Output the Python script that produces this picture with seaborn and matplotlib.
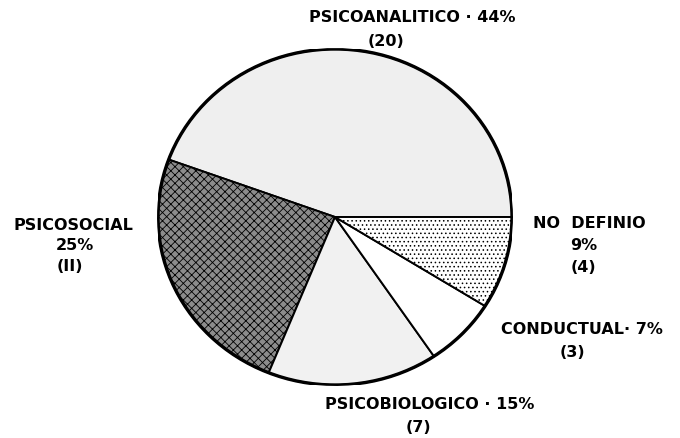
import matplotlib
matplotlib.use("Agg")
import matplotlib.pyplot as plt
import seaborn as sns
from matplotlib.patches import Ellipse

# datos del grafico (orden antihorario desde las 3 en punto)
categorias = ["PSICOANALITICO", "PSICOSOCIAL", "PSICOBIOLOGICO", "CONDUCTUAL", "NO DEFINIO"]
casos = [20, 11, 7, 3, 4]
porcentajes = ["44%", "25%", "15%", "7%", "9%"]
cuentas = ["(20)", "(II)", "(7)", "(3)", "(4)"]

sns.set_style("white")
plt.rcParams["font.family"] = ["DejaVu Sans"]
plt.rcParams["hatch.color"] = "black"
plt.rcParams["hatch.linewidth"] = 0.6

W, H = 680, 439
fig = plt.figure(figsize=(W / 100, H / 100), dpi=100)

# centro y radios del pastel en pixeles
cx, cy, rx, ry = 335, 218, 177, 168
ax = fig.add_axes([(cx - rx) / W, (H - cy - ry) / H, 2 * rx / W, 2 * ry / H])

rellenos = ["#efefef", "#8c8c8c", "#f1f1f1", "white", "white"]
tramas = [None, "xxxx", None, None, "...."]

wedges, _ = ax.pie(casos, startangle=0, counterclock=True,
                   colors=rellenos,
                   wedgeprops=dict(edgecolor="black", linewidth=1.4))
for w, t in zip(wedges, tramas):
    if t:
        w.set_hatch(t)

ax.add_patch(Ellipse((0, 0), 2, 2, fill=False, edgecolor="black", linewidth=2.4))
ax.set_aspect("auto")
ax.set_xlim(-1.0, 1.0)
ax.set_ylim(-1.0, 1.0)
ax.axis("off")


def texto(x, y, s):
    fig.text(x / W, 1 - y / H, s, ha="center", va="center",
             fontsize=11.5, fontweight="bold", color="black")


# etiquetas, posiciones
texto(412, 18, categorias[0] + " · " + porcentajes[0])
texto(386, 42, cuentas[0])
texto(73, 226, categorias[1])
texto(75, 246, porcentajes[1])
texto(70, 267, cuentas[1])
texto(430, 405, categorias[2] + " · " + porcentajes[2])
texto(418, 428, cuentas[2])
texto(582, 330, categorias[3] + "· " + porcentajes[3])
texto(572, 353, cuentas[3])
texto(589, 223, categorias[4].replace(" ", "  "))
texto(584, 246, porcentajes[4])
texto(583, 268, cuentas[4])

fig.savefig("out.png", dpi=100)
